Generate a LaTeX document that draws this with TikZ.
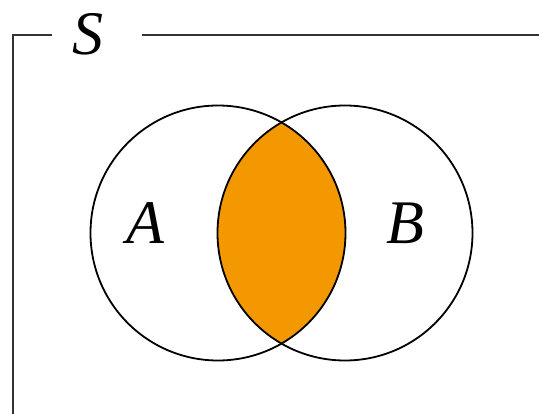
\documentclass[tikz,border=0pt]{standalone}
\usepackage{fontspec}
\setmainfont{Liberation Serif}
\definecolor{lensorange}{HTML}{F39800}
\definecolor{framegray}{HTML}{333333}

\begin{document}
\begin{tikzpicture}[
      x=1pt, y=-1pt,
      frame/.style={draw=framegray, line width=2.2pt},
      setcircle/.style={draw=black, line width=1.8pt},
      setlabel/.style={font=\fontsize{62}{70}\selectfont\itshape, inner sep=0pt}
    ]
    \useasboundingbox (0,0) rectangle (539,414);

    % universe frame
    \coordinate (frameleft) at (13,414);
    \coordinate (framecorner) at (13,35);
    \coordinate (framegapl) at (52,35);
    \coordinate (framegapr) at (142,35);
    \coordinate (frameright) at (539,35);
    \node[setlabel] (labelS) at (88,34) {S};
    \draw[frame] (frameleft) -- (framecorner) -- (framegapl);
    \draw[frame] (framegapr) -- (frameright);

    % intersection
    \begin{scope}
      \clip (218,233) circle[radius=127.5pt];
      \fill[lensorange] (345,233) circle[radius=127.5pt];
    \end{scope}

    % sets
    \draw[setcircle] (218,233) circle[radius=127.5pt];
    \draw[setcircle] (345,233) circle[radius=127.5pt];
    \node[setlabel] (labelA) at (145,223) {A};
    \node[setlabel] (labelB) at (405,223) {B};
  \end{tikzpicture}
\end{document}
